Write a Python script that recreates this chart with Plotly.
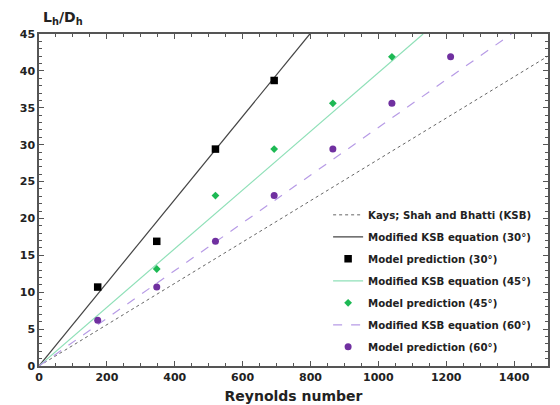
import plotly.graph_objects as go

# Reynolds numbers of model predictions
re_30 = [173, 347, 520, 693]
lh_30 = [10.7, 16.9, 29.4, 38.7]
re_45 = [347, 520, 693, 866, 1040]
lh_45 = [13.15, 23.1, 29.4, 35.6, 41.9]
re_60 = [173, 347, 520, 693, 866, 1040, 1213]
lh_60 = [6.2, 10.7, 16.9, 23.1, 29.4, 35.6, 41.9]

# Line endpoints (Re, Lh/Dh) – straight lines through origin
ksb_re = [0, 1500]
ksb_lh = [0, 42.0]
m30_re = [0, 798]
m30_lh = [0, 45]
m45_re = [0, 1132]
m45_lh = [0, 45]
m60_re = [0, 1392]
m60_lh = [0, 45]

font = "DejaVu Sans"
fig = go.Figure()
traces = [
    go.Scatter(x=ksb_re, y=ksb_lh, mode="lines", name="Kays; Shah and Bhatti (KSB)",
               line=dict(color="#666666", width=1, dash="dot")),
    go.Scatter(x=m30_re, y=m30_lh, mode="lines", name="Modified KSB equation (30°)",
               line=dict(color="#444444", width=1.2)),
    go.Scatter(x=re_30, y=lh_30, mode="markers", name="Model prediction (30°)",
               marker=dict(symbol="square", size=7.5, color="#000000")),
    go.Scatter(x=m45_re, y=m45_lh, mode="lines", name="Modified KSB equation (45°)",
               line=dict(color="#8fe0b8", width=1.2)),
    go.Scatter(x=re_45, y=lh_45, mode="markers", name="Model prediction (45°)",
               marker=dict(symbol="diamond", size=6, color="#1db954")),
    go.Scatter(x=m60_re, y=m60_lh, mode="lines", name="Modified KSB equation (60°)",
               line=dict(color="#b79be6", width=1.2, dash="dash")),
    go.Scatter(x=re_60, y=lh_60, mode="markers", name="Model prediction (60°)",
               marker=dict(symbol="circle", size=7, color="#7030a0")),
]
for i, t in enumerate(traces):
    t.legendgroup = f"g{i}"
    fig.add_trace(t)

axis_common = dict(showline=True, linecolor="#555555", linewidth=1.5, mirror="ticks",
                   ticks="inside", ticklen=5, tickcolor="#555555", showgrid=False, zeroline=False,
                   automargin=False,
                   tickfont=dict(family=font, size=11, color="#222222", weight="bold"))

fig.update_xaxes(range=[0, 1500], dtick=200, tick0=0,
                 minor=dict(dtick=50, ticks="inside", ticklen=3, tickcolor="#555555"),
                 title=dict(text="Reynolds number", font=dict(family=font, size=14, color="#222222",
                                                              weight="bold"),
                            standoff=8),
                 **axis_common)
fig.update_yaxes(range=[0, 45], dtick=5, tick0=0,
                 minor=dict(dtick=1, ticks="inside", ticklen=3, tickcolor="#555555"),
                 **axis_common)

fig.add_annotation(text="L<sub>h</sub>/D<sub>h</sub>", xref="paper", yref="paper",
                   x=0.047, y=1.0, xanchor="center", yanchor="bottom", showarrow=False, yshift=5,
                   font=dict(family=font, size=14, color="#222222", weight="bold"))

fig.update_layout(
    width=560, height=405,
    margin=dict(l=31, r=20, t=26, b=47),
    plot_bgcolor="white", paper_bgcolor="white",
    showlegend=True,
    legend=dict(x=0.568, y=0.499, xanchor="left", yanchor="top", bgcolor="rgba(0,0,0,0)",
                font=dict(family=font, size=10.2, color="#222222", weight="bold"), tracegroupgap=3,
                itemwidth=30),
)

fig.write_html("out.html")
